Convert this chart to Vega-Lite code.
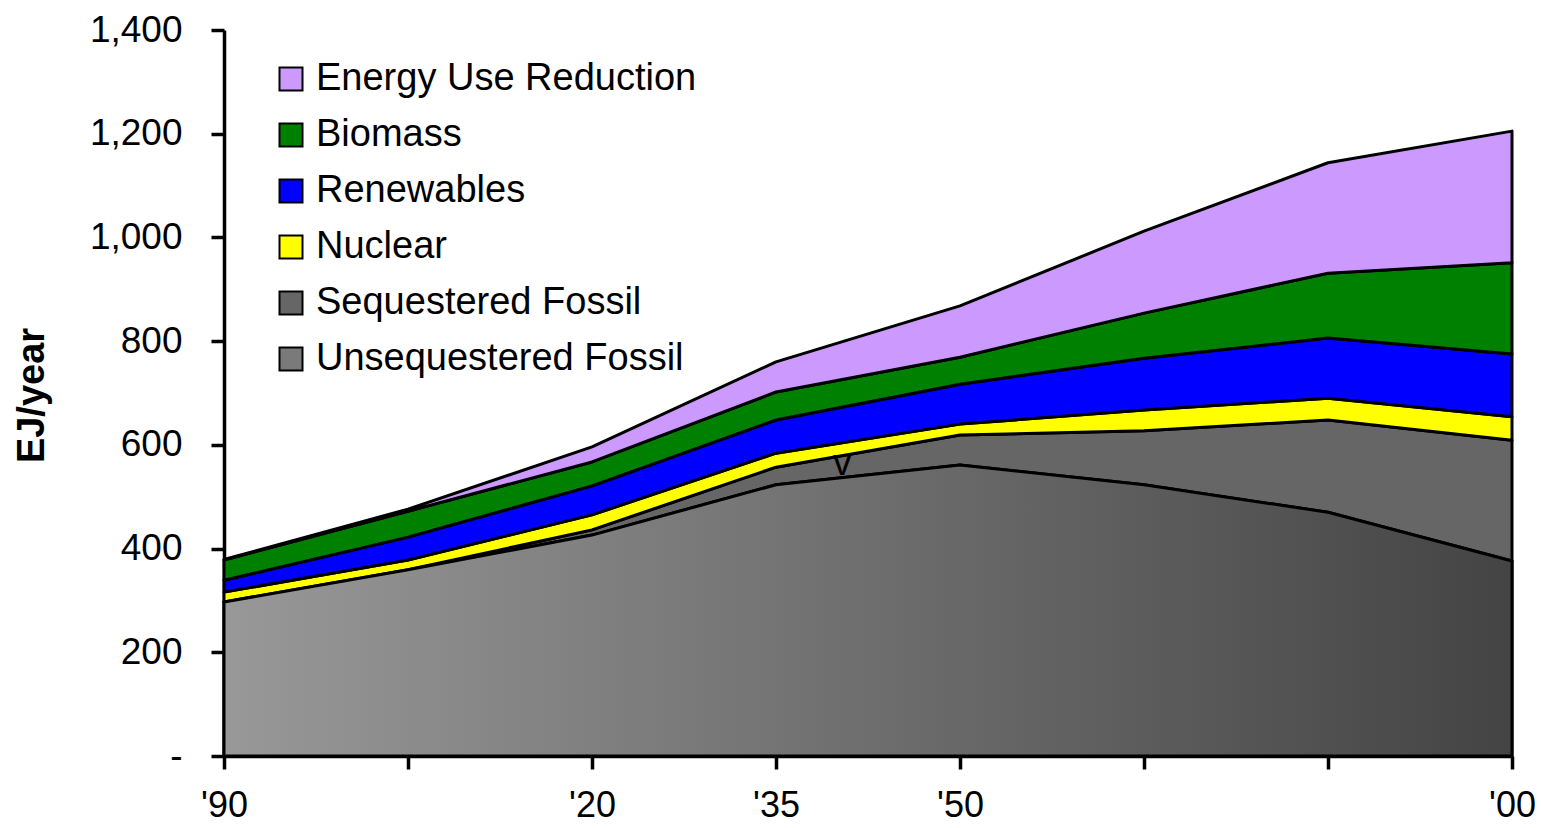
{
  "$schema": "https://vega.github.io/schema/vega-lite/v6.json",
  "width": 1288,
  "height": 726,
  "autosize": {"type": "none"},
  "padding": {"left": 224, "top": 30, "right": 29, "bottom": 72},
  "background": "white",
  "config": {
    "view": {"stroke": null},
    "font": "Liberation Sans",
    "axis": {
      "domainColor": "black",
      "domainWidth": 3.5,
      "tickColor": "black",
      "tickWidth": 3.5,
      "tickSize": 13,
      "labelFont": "Liberation Sans",
      "labelFontSize": 37,
      "labelColor": "black",
      "titleColor": "black",
      "titleFont": "Liberation Sans",
      "grid": false
    }
  },
  "datasets": {
    "energy": [
      {"step": 0, "year": 1990, "source": "Unsequestered Fossil", "value": 297},
      {"step": 0, "year": 1990, "source": "Sequestered Fossil", "value": 0},
      {"step": 0, "year": 1990, "source": "Nuclear", "value": 19},
      {"step": 0, "year": 1990, "source": "Renewables", "value": 23},
      {"step": 0, "year": 1990, "source": "Biomass", "value": 39},
      {"step": 0, "year": 1990, "source": "Energy Use Reduction", "value": 1},
      {"step": 1, "year": 2005, "source": "Unsequestered Fossil", "value": 359},
      {"step": 1, "year": 2005, "source": "Sequestered Fossil", "value": 0},
      {"step": 1, "year": 2005, "source": "Nuclear", "value": 19},
      {"step": 1, "year": 2005, "source": "Renewables", "value": 44},
      {"step": 1, "year": 2005, "source": "Biomass", "value": 50},
      {"step": 1, "year": 2005, "source": "Energy Use Reduction", "value": 4},
      {"step": 2, "year": 2020, "source": "Unsequestered Fossil", "value": 426},
      {"step": 2, "year": 2020, "source": "Sequestered Fossil", "value": 10},
      {"step": 2, "year": 2020, "source": "Nuclear", "value": 29},
      {"step": 2, "year": 2020, "source": "Renewables", "value": 56},
      {"step": 2, "year": 2020, "source": "Biomass", "value": 46},
      {"step": 2, "year": 2020, "source": "Energy Use Reduction", "value": 29},
      {"step": 3, "year": 2035, "source": "Unsequestered Fossil", "value": 523},
      {"step": 3, "year": 2035, "source": "Sequestered Fossil", "value": 34},
      {"step": 3, "year": 2035, "source": "Nuclear", "value": 27},
      {"step": 3, "year": 2035, "source": "Renewables", "value": 64},
      {"step": 3, "year": 2035, "source": "Biomass", "value": 54},
      {"step": 3, "year": 2035, "source": "Energy Use Reduction", "value": 58},
      {"step": 4, "year": 2050, "source": "Unsequestered Fossil", "value": 561},
      {"step": 4, "year": 2050, "source": "Sequestered Fossil", "value": 58},
      {"step": 4, "year": 2050, "source": "Nuclear", "value": 21},
      {"step": 4, "year": 2050, "source": "Renewables", "value": 77},
      {"step": 4, "year": 2050, "source": "Biomass", "value": 52},
      {"step": 4, "year": 2050, "source": "Energy Use Reduction", "value": 99},
      {"step": 5, "year": 2065, "source": "Unsequestered Fossil", "value": 523},
      {"step": 5, "year": 2065, "source": "Sequestered Fossil", "value": 104},
      {"step": 5, "year": 2065, "source": "Nuclear", "value": 40},
      {"step": 5, "year": 2065, "source": "Renewables", "value": 100},
      {"step": 5, "year": 2065, "source": "Biomass", "value": 87},
      {"step": 5, "year": 2065, "source": "Energy Use Reduction", "value": 158},
      {"step": 6, "year": 2080, "source": "Unsequestered Fossil", "value": 470},
      {"step": 6, "year": 2080, "source": "Sequestered Fossil", "value": 178},
      {"step": 6, "year": 2080, "source": "Nuclear", "value": 42},
      {"step": 6, "year": 2080, "source": "Renewables", "value": 116},
      {"step": 6, "year": 2080, "source": "Biomass", "value": 125},
      {"step": 6, "year": 2080, "source": "Energy Use Reduction", "value": 213},
      {"step": 7, "year": 2100, "source": "Unsequestered Fossil", "value": 376},
      {"step": 7, "year": 2100, "source": "Sequestered Fossil", "value": 233},
      {"step": 7, "year": 2100, "source": "Nuclear", "value": 45},
      {"step": 7, "year": 2100, "source": "Renewables", "value": 121},
      {"step": 7, "year": 2100, "source": "Biomass", "value": 176},
      {"step": 7, "year": 2100, "source": "Energy Use Reduction", "value": 254}
    ],
    "notes": [
      {"step": 3.36, "value": 542, "text": "v"}
    ]
  },
  "layer": [
    {
      "data": {"name": "energy"},
      "transform": [
        {"calculate": "indexof(['Unsequestered Fossil','Sequestered Fossil','Nuclear','Renewables','Biomass','Energy Use Reduction'], datum.source)", "as": "rank"}
      ],
      "mark": {"type": "area", "stroke": "black", "strokeWidth": 3, "strokeJoin": "round", "opacity": 1},
      "encoding": {
        "x": {
          "field": "step",
          "type": "quantitative",
          "scale": {"domain": [0, 7], "nice": false, "zero": false},
          "axis": {
            "title": null,
            "values": [0, 1, 2, 3, 4, 5, 6, 7],
            "labelExpr": "[\"'90\", \"\", \"'20\", \"'35\", \"'50\", \"\", \"\", \"'00\"][datum.value]",
            "labelPadding": 19,
            "labelFontSize": 36,
            "labelFlush": false,
            "labelOverlap": false,
            "domainWidth": 3.5,
            "tickWidth": 3.5
          }
        },
        "y": {
          "field": "value",
          "type": "quantitative",
          "stack": "zero",
          "scale": {"domain": [0, 1400], "nice": false},
          "axis": {
            "values": [0, 200, 400, 600, 800, 1000, 1200, 1400],
            "labelExpr": "datum.value === 0 ? '-' : format(datum.value, ',')",
            "labelPadding": 29,
            "domainWidth": 3.5,
            "tickWidth": 3.5,
            "title": "EJ/year",
            "titleFontSize": 38,
            "titleFontWeight": "bold",
            "titleAngle": 270,
            "titleBaseline": "alphabetic",
            "titleX": -181,
            "titleY": 365
          }
        },
        "color": {
          "field": "source",
          "type": "nominal",
          "scale": {
            "domain": ["Energy Use Reduction", "Biomass", "Renewables", "Nuclear", "Sequestered Fossil", "Unsequestered Fossil"],
            "range": ["#cc99ff", "#008000", "#0000ff", "#ffff00", "#666666", "#7a7a7a"]
          },
          "legend": {
            "title": null,
            "orient": "none",
            "legendX": 48,
            "legendY": 30,
            "padding": 0,
            "labelFont": "Liberation Sans",
            "labelFontSize": 38,
            "labelColor": "black",
            "labelLimit": 0,
            "symbolType": "square",
            "symbolSize": 529,
            "symbolStrokeColor": "black",
            "symbolStrokeWidth": 2,
            "symbolOpacity": 1,
            "rowPadding": 18,
            "labelOffset": 6
          }
        },
        "order": {"field": "rank", "type": "quantitative"}
      }
    },
    {
      "data": {"name": "energy"},
      "transform": [{"filter": "datum.source === 'Unsequestered Fossil'"}],
      "mark": {
        "type": "area",
        "fill": {
          "gradient": "linear",
          "x1": 0, "y1": 0, "x2": 1, "y2": 0,
          "stops": [
            {"offset": 0, "color": "#989898"},
            {"offset": 1, "color": "#444444"}
          ]
        },
        "stroke": "black",
        "strokeWidth": 3,
        "strokeJoin": "round",
        "opacity": 1
      },
      "encoding": {
        "x": {"field": "step", "type": "quantitative"},
        "y": {"field": "value", "type": "quantitative"}
      }
    },
    {
      "data": {"name": "notes"},
      "mark": {"type": "text", "fontSize": 37, "font": "Liberation Sans", "baseline": "alphabetic", "align": "center", "color": "black"},
      "encoding": {
        "x": {"field": "step", "type": "quantitative"},
        "y": {"field": "value", "type": "quantitative"},
        "text": {"field": "text"}
      }
    }
  ]
}
